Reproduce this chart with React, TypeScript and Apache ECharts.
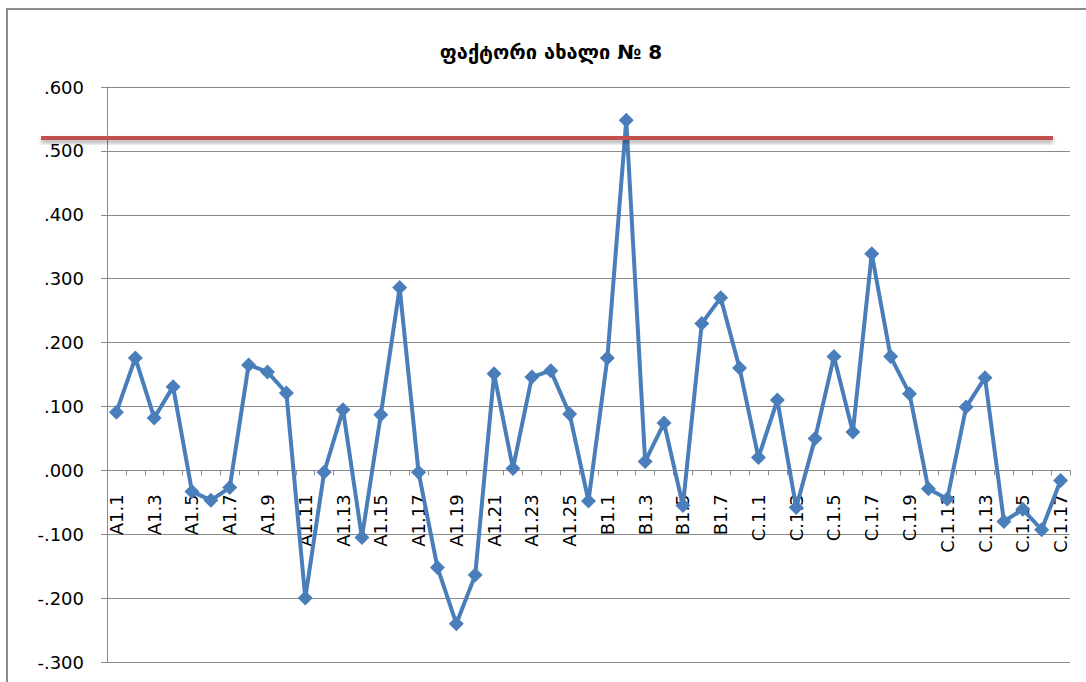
import React, { useEffect, useRef } from "react";
import * as echarts from "echarts";

const titleText = "ფაქტორი ახალი № 8";

const categoriesA = [
  "A1.1", "A1.2", "A1.3", "A1.4", "A1.5", "A1.6", "A1.7", "A1.8", "A1.9", "A1.10",
  "A1.11", "A1.12", "A1.13", "A1.14", "A1.15", "A1.16", "A1.17", "A1.18", "A1.19", "A1.20",
  "A1.21", "A1.22", "A1.23", "A1.24", "A1.25", "A1.26",
];
const categoriesB = ["B1.1", "B1.2", "B1.3", "B1.4", "B1.5", "B1.6", "B1.7", "B1.8"];
const categoriesC = [
  "C.1.1", "C.1.2", "C.1.3", "C.1.4", "C.1.5", "C.1.6", "C.1.7", "C.1.8", "C.1.9",
  "C.1.10", "C.1.11", "C.1.12", "C.1.13", "C.1.14", "C.1.15", "C.1.16", "C.1.17",
];

const valuesA = [
  0.091, 0.176, 0.082, 0.131, -0.033, -0.047, -0.027, 0.165, 0.154, 0.121,
  -0.2, -0.003, 0.095, -0.105, 0.087, 0.286, -0.003, -0.152, -0.24, -0.164,
  0.151, 0.003, 0.146, 0.156, 0.088, -0.048,
];
const valuesB = [0.176, 0.548, 0.014, 0.074, -0.055, 0.23, 0.27, 0.16];
const valuesC = [
  0.02, 0.11, -0.058, 0.05, 0.178, 0.06, 0.339, 0.178, 0.12,
  -0.029, -0.045, 0.099, 0.145, -0.08, -0.061, -0.093, -0.016,
];

const thresholdValue = 0.52;

const yMin = -0.3;
const yMax = 0.6;
const yStep = 0.1;

const fmt = (v: number) => {
  const s = v.toFixed(3);
  return s.replace(/^(-?)0\./, "$1.");
};

export default function App() {
  const ref = useRef<HTMLDivElement>(null);

  useEffect(() => {
    if (!ref.current) return;
    const chart = echarts.init(ref.current, null, { renderer: "svg" });
    const categories = [...categoriesA, ...categoriesB, ...categoriesC];
    const values = [...valuesA, ...valuesB, ...valuesC];
    const axisGray = "#8a8a8a";
    const font = "DejaVu Sans";

    chart.setOption({
      animation: false,
      backgroundColor: "#ffffff",
      title: {
        text: titleText,
        left: 546,
        top: 37,
        textAlign: "center",
        textStyle: {
          fontFamily: font,
          fontWeight: "bold",
          fontSize: 20,
          color: "#000000",
        },
      },
      grid: {
        left: 107,
        right: 16,
        top: 87,
        bottom: 20,
        containLabel: false,
        outerBoundsMode: "none",
      },
      xAxis: {
        type: "category",
        data: categories,
        boundaryGap: true,
        offset: 0,
        axisLine: { show: true, onZero: false, lineStyle: { color: axisGray, width: 1 } },
        axisTick: { show: true, interval: 0, length: 5, lineStyle: { color: axisGray } },
        axisLabel: {
          interval: 1,
          rotate: 90,
          margin: 24,
          fontFamily: font,
          fontSize: 18,
          color: "#000000",
        },
        splitLine: { show: false },
      },
      yAxis: {
        type: "value",
        min: yMin,
        max: yMax,
        interval: yStep,
        axisLine: { show: true, lineStyle: { color: axisGray, width: 1 } },
        axisTick: { show: true, length: 6, lineStyle: { color: axisGray } },
        axisLabel: {
          formatter: (v: number) => fmt(v),
          margin: 23,
          fontFamily: font,
          fontSize: 18,
          color: "#000000",
        },
        splitLine: { show: true, lineStyle: { color: axisGray, width: 1 } },
      },
      series: [
        {
          type: "line",
          data: values,
          symbol: "diamond",
          symbolSize: 15,
          showAllSymbol: true,
          lineStyle: { color: "#4A7EBB", width: 4 },
          itemStyle: { color: "#4A7EBB" },
          z: 3,
        },
      ],
    });

    const yZero = chart.convertToPixel({ yAxisIndex: 0 }, 0) as number;
    const yBottom = chart.convertToPixel({ yAxisIndex: 0 }, yMin) as number;
    const yPix = chart.convertToPixel({ yAxisIndex: 0 }, thresholdValue) as number;

    chart.setOption({
      xAxis: { offset: yZero - yBottom },
      graphic: [
        {
          type: "rect",
          shape: { x: 7, y: 9, width: 1300, height: 1000 },
          style: { fill: "none", stroke: "#8c8c8c", lineWidth: 2 },
          silent: true,
          z: 0,
        },
        {
          type: "rect",
          shape: { x: 41, y: yPix - 2, width: 1012, height: 4 },
          style: {
            fill: "#C0504D",
            shadowColor: "rgba(0,0,0,0.35)",
            shadowBlur: 4,
            shadowOffsetY: 3,
          },
          silent: true,
          z: 10,
        },
      ],
    });

    return () => chart.dispose();
  }, []);

  return (
    <div
      ref={ref}
      style={{ position: "fixed", left: 0, top: 0, width: 1086, height: 682, background: "#fff" }}
    />
  );
}
